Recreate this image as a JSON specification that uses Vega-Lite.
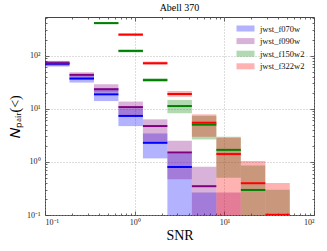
{
  "$schema": "https://vega.github.io/schema/vega-lite/v6.json",
  "width": 269,
  "height": 198,
  "autosize": "none",
  "padding": {"left": 45, "top": 17, "right": 13, "bottom": 36},
  "background": "white",
  "title": {"text": "Abell 370", "font": "Liberation Serif", "fontSize": 10, "fontWeight": "normal", "color": "#000", "offset": 4},
  "config": {
    "view": {"stroke": "#444", "strokeWidth": 1},
    "axis": {"domain": false, "labelFont": "Liberation Serif", "labelFontSize": 8, "labelColor": "#222", "titleFont": "Liberation Serif", "titleFontSize": 14, "titleFontWeight": "normal", "titleColor": "#000", "tickColor": "#444", "tickWidth": 0.8}
  },
  "datasets": {
    "d": [
      {"s": "jwst_f070w", "lo": 0.1, "hi": 0.1875, "med": 70, "blo": 62, "bhi": 79},
      {"s": "jwst_f070w", "lo": 0.1875, "hi": 0.3516, "med": 36.8, "blo": 31, "bhi": 41},
      {"s": "jwst_f070w", "lo": 0.3516, "hi": 0.659, "med": 18.6, "blo": 13.9, "bhi": 24.2},
      {"s": "jwst_f070w", "lo": 0.659, "hi": 1.236, "med": 7.3, "blo": 4.7, "bhi": 10.1},
      {"s": "jwst_f070w", "lo": 1.236, "hi": 2.317, "med": 2.28, "blo": 1.16, "bhi": 3.42},
      {"s": "jwst_f070w", "lo": 2.317, "hi": 4.345, "med": 0.8, "blo": 0.05, "bhi": 1.44},
      {"s": "jwst_f070w", "lo": 4.345, "hi": 8.147, "med": 0, "blo": 0.05, "bhi": 0.264},
      {"s": "jwst_f090w", "lo": 0.1, "hi": 0.1875, "med": 71.6, "blo": 64, "bhi": 79},
      {"s": "jwst_f090w", "lo": 0.1875, "hi": 0.3516, "med": 43.2, "blo": 35.8, "bhi": 48.4},
      {"s": "jwst_f090w", "lo": 0.3516, "hi": 0.659, "med": 23.2, "blo": 20.1, "bhi": 28.8},
      {"s": "jwst_f090w", "lo": 0.659, "hi": 1.236, "med": 10.7, "blo": 7.6, "bhi": 13.6},
      {"s": "jwst_f090w", "lo": 1.236, "hi": 2.317, "med": 4.71, "blo": 2.38, "bhi": 6.3},
      {"s": "jwst_f090w", "lo": 2.317, "hi": 4.345, "med": 1.5, "blo": 0.47, "bhi": 2.49},
      {"s": "jwst_f090w", "lo": 4.345, "hi": 8.147, "med": 0.348, "blo": 0.05, "bhi": 0.805},
      {"s": "jwst_f090w", "lo": 8.147, "hi": 15.28, "med": 0, "blo": 0.05, "bhi": 0.264},
      {"s": "jwst_f150w2", "lo": 0.3516, "hi": 0.659, "med": 407, "blo": 388, "bhi": 427},
      {"s": "jwst_f150w2", "lo": 0.659, "hi": 1.236, "med": 122, "blo": 114, "bhi": 130},
      {"s": "jwst_f150w2", "lo": 1.236, "hi": 2.317, "med": 34.5, "blo": 32, "bhi": 37.5},
      {"s": "jwst_f150w2", "lo": 2.317, "hi": 4.345, "med": 11.2, "blo": 8.2, "bhi": 14.6},
      {"s": "jwst_f150w2", "lo": 4.345, "hi": 8.147, "med": 5.0, "blo": 2.64, "bhi": 7.3},
      {"s": "jwst_f150w2", "lo": 8.147, "hi": 15.28, "med": 1.68, "blo": 0.5, "bhi": 2.96},
      {"s": "jwst_f150w2", "lo": 15.28, "hi": 28.64, "med": 0.296, "blo": 0.05, "bhi": 0.85},
      {"s": "jwst_f150w2", "lo": 28.64, "hi": 53.7, "med": 0, "blo": 0.05, "bhi": 0.3},
      {"s": "jwst_f322w2", "lo": 0.659, "hi": 1.236, "med": 247, "blo": 232, "bhi": 262},
      {"s": "jwst_f322w2", "lo": 1.236, "hi": 2.317, "med": 71.6, "blo": 67, "bhi": 77},
      {"s": "jwst_f322w2", "lo": 2.317, "hi": 4.345, "med": 18.9, "blo": 16.8, "bhi": 21.5},
      {"s": "jwst_f322w2", "lo": 4.345, "hi": 8.147, "med": 5.44, "blo": 2.96, "bhi": 7.8},
      {"s": "jwst_f322w2", "lo": 8.147, "hi": 15.28, "med": 1.4, "blo": 0.05, "bhi": 2.84},
      {"s": "jwst_f322w2", "lo": 15.28, "hi": 28.64, "med": 0.396, "blo": 0.05, "bhi": 1.04},
      {"s": "jwst_f322w2", "lo": 28.64, "hi": 53.7, "med": 0.101, "blo": 0.05, "bhi": 0.4}
    ]
  },
  "layer": [
    {
      "data": {"name": "d"},
      "mark": {"type": "rect", "opacity": 0.3, "clip": true},
      "encoding": {
        "x": {"field": "lo", "type": "quantitative", "scale": {"type": "log", "domain": [0.1, 100], "nice": false},
          "axis": {"orient": "bottom", "values": [0.1, 1, 10, 100], "tickSize": -4, "labelPadding": 7, "grid": true, "gridDash": [1, 2], "gridColor": "#aaa", "gridWidth": 0.8, "title": "SNR", "titlePadding": 2,
            "labelExpr": "'10' + (datum.value < 0.5 ? '⁻¹' : datum.value < 5 ? '⁰' : datum.value < 50 ? '¹' : '²')"}},
        "x2": {"field": "hi"},
        "y": {"field": "blo", "type": "quantitative", "scale": {"type": "log", "domain": [0.1, 530], "nice": false},
          "axis": {"orient": "left", "values": [0.1, 1, 10, 100], "tickSize": -4, "labelPadding": 9, "grid": true, "gridDash": [1, 2], "gridColor": "#aaa", "gridWidth": 0.8, "title": "𝑁ₚₐᵢᵣ(<)", "titlePadding": 4,
            "labelExpr": "'10' + (datum.value < 0.5 ? '⁻¹' : datum.value < 5 ? '⁰' : datum.value < 50 ? '¹' : '²')"}},
        "y2": {"field": "bhi"},
        "color": {"field": "s", "type": "nominal",
          "scale": {"domain": ["jwst_f070w", "jwst_f090w", "jwst_f150w2", "jwst_f322w2"], "range": ["#0000ff", "#800080", "#008000", "#ff0000"]},
          "legend": {"orient": "none", "legendX": 196, "legendY": 7, "title": null, "symbolType": "M-2,-0.67H2V0.67H-2Z", "symbolSize": 81, "symbolOpacity": 0.3, "symbolStrokeWidth": 0, "labelFont": "Liberation Serif", "labelFontSize": 8.5, "labelColor": "#111", "labelOffset": 10, "rowPadding": 3.6}}
      }
    },
    {
      "data": {"name": "d"},
      "transform": [{"filter": "datum.med > 0"}],
      "mark": {"type": "rule", "strokeWidth": 2, "clip": true},
      "encoding": {
        "x": {"field": "lo", "type": "quantitative", "axis": {"orient": "bottom", "values": [0.2,0.3,0.4,0.5,0.6,0.7,0.8,0.9,2,3,4,5,6,7,8,9,20,30,40,50,60,70,80,90], "tickSize": -2, "labels": false, "grid": false, "title": null}},
        "x2": {"field": "hi"},
        "y": {"field": "med", "type": "quantitative", "axis": {"orient": "left", "values": [0.2,0.3,0.4,0.5,0.6,0.7,0.8,0.9,2,3,4,5,6,7,8,9,20,30,40,50,60,70,80,90,200,300,400,500], "tickSize": -2, "labels": false, "grid": false, "title": null}},
        "color": {"field": "s", "type": "nominal", "legend": null}
      }
    },
    {
      "data": {"name": "d"},
      "transform": [{"filter": "false"}],
      "mark": {"type": "rule"},
      "encoding": {
        "x": {"field": "lo", "type": "quantitative", "axis": {"orient": "top", "values": [0.1, 1, 10, 100], "tickSize": -4, "labels": false, "grid": false, "title": null}},
        "y": {"field": "med", "type": "quantitative", "axis": {"orient": "right", "values": [0.1, 1, 10, 100], "tickSize": -4, "labels": false, "grid": false, "title": null}}
      }
    },
    {
      "data": {"name": "d"},
      "transform": [{"filter": "false"}],
      "mark": {"type": "rule"},
      "encoding": {
        "x": {"field": "lo", "type": "quantitative", "axis": {"orient": "top", "values": [0.2,0.3,0.4,0.5,0.6,0.7,0.8,0.9,2,3,4,5,6,7,8,9,20,30,40,50,60,70,80,90], "tickSize": -2, "labels": false, "grid": false, "title": null}},
        "y": {"field": "med", "type": "quantitative", "axis": {"orient": "right", "values": [0.2,0.3,0.4,0.5,0.6,0.7,0.8,0.9,2,3,4,5,6,7,8,9,20,30,40,50,60,70,80,90,200,300,400,500], "tickSize": -2, "labels": false, "grid": false, "title": null}}
      }
    }
  ],
  "resolve": {"axis": {"x": "independent", "y": "independent"}}
}
